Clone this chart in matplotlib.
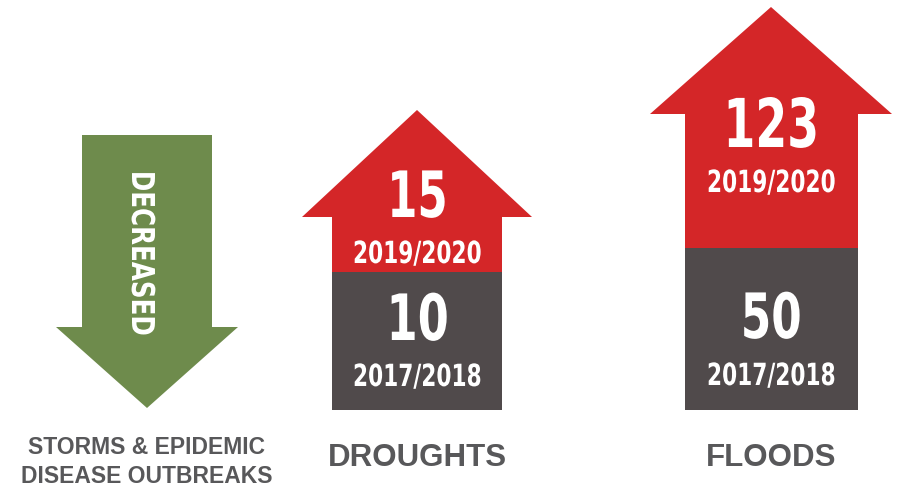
import matplotlib.pyplot as plt
from matplotlib.patches import Polygon
from matplotlib.patheffects import AbstractPathEffect
from matplotlib.transforms import Affine2D

# data
categories = ['DROUGHTS', 'FLOODS']
periods = ['2017/2018', '2019/2020']
values_2017_2018 = [10, 50]
values_2019_2020 = [15, 123]
decreased_label = 'STORMS & EPIDEMIC\nDISEASE OUTBREAKS'
decreased_text = 'DECREASED'

# colours
RED = '#d42628'
GREY = '#504a4b'
GREEN = '#6e8b4c'
LABEL = '#58585a'

WIDE = ['Liberation Sans', 'DejaVu Sans']
COND = ['DejaVu Sans']


class Squeeze(AbstractPathEffect):
    """Narrow the glyphs around their centre, to mimic a condensed face."""

    def __init__(self, sx):
        super().__init__()
        self.sx = sx

    def draw_path(self, renderer, gc, tpath, affine, rgbFace=None):
        ext = tpath.get_extents()
        cx = (ext.x0 + ext.x1) / 2
        sq = Affine2D().translate(-cx, 0).scale(self.sx, 1).translate(cx, 0)
        renderer.draw_path(gc, tpath, sq + affine, rgbFace)


def cond_text(ax, x, y, s, size, sx, **kw):
    return ax.text(x, y, s, color='white', fontsize=size, fontweight='bold',
                   family=COND, ha='center', va='baseline',
                   path_effects=[Squeeze(sx)], **kw)


# layout of the up arrows (pixels, y down)
centers = [417, 771]
shaft_w = [170, 173]
bottom = 410
split_y = [272, 248]
head_y = [217, 114]
tip_y = [110, 7]
head_half = [115, 121]
new_size = [46, 48.5]
old_size = [46, 45]
new_base = [217, 147]
new_year_base = [263, 192]
old_base = [340, 338]
old_year_base = [386, 385]

fig = plt.figure(figsize=(8.97, 4.88), dpi=100)
ax = fig.add_axes([0, 0, 1, 1])
ax.set_xlim(0, 897)
ax.set_ylim(488, 0)
ax.axis('off')

for i, cat in enumerate(categories):
    cx = centers[i]
    # old value (grey block)
    ax.bar(cx, bottom - split_y[i], bottom=split_y[i], width=shaft_w[i],
           color=GREY, linewidth=0)
    # new value (red block + head)
    ax.bar(cx, split_y[i] - head_y[i], bottom=head_y[i], width=shaft_w[i],
           color=RED, linewidth=0)
    ax.add_patch(Polygon([[cx - head_half[i], head_y[i]], [cx, tip_y[i]],
                          [cx + head_half[i], head_y[i]]],
                         closed=True, color=RED, linewidth=0))

    cond_text(ax, cx, new_base[i], str(values_2019_2020[i]), new_size[i], 0.68)
    cond_text(ax, cx, new_year_base[i], periods[1], 22, 0.71)
    cond_text(ax, cx, old_base[i], str(values_2017_2018[i]), old_size[i], 0.70)
    cond_text(ax, cx, old_year_base[i], periods[0], 22, 0.71)

    ax.text(cx, 458, cat, color=LABEL, fontsize=22.5, fontweight='bold',
            family=WIDE, ha='center', va='center')

# decreased arrow
gx = 147
ax.bar(gx, 327 - 135, bottom=135, width=130, color=GREEN, linewidth=0)
ax.add_patch(Polygon([[56, 327], [gx, 408], [238, 327]], closed=True,
                     color=GREEN, linewidth=0))
cond_text(ax, 132, 253, decreased_text, 22.7, 0.78, rotation=-90,
          rotation_mode='anchor')
ax.text(gx, 462, decreased_label, color=LABEL, fontsize=16.5,
        fontweight='bold', family=WIDE, ha='center', va='center',
        linespacing=1.3)

fig.savefig('out.png', dpi=100)
